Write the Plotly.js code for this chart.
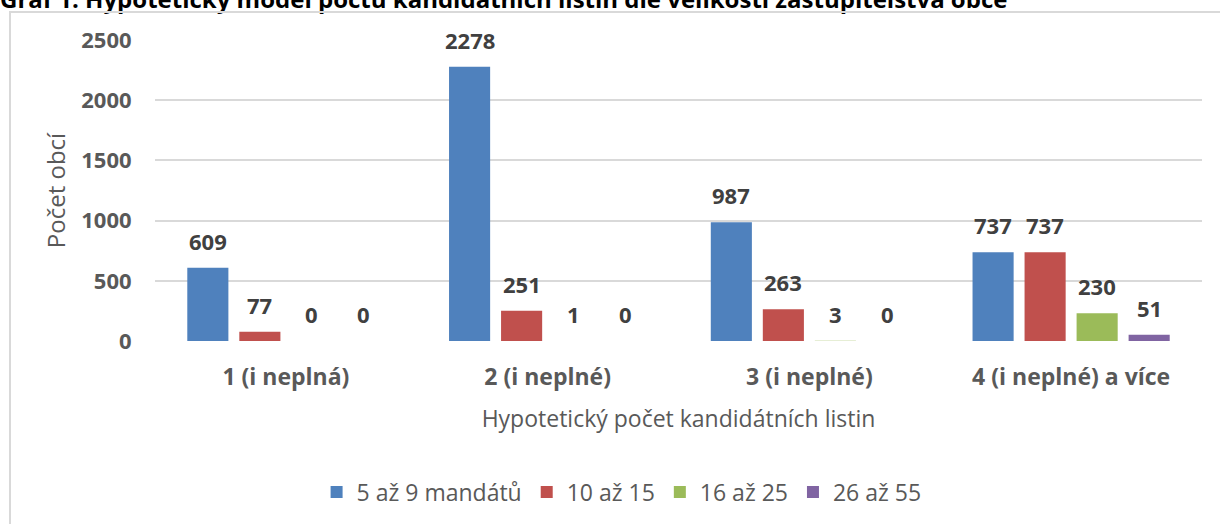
<!DOCTYPE html>
<html><head><meta charset="utf-8">
<script src="https://cdn.plot.ly/plotly-3.0.1.min.js"></script>
<style>
html,body{margin:0;padding:0;background:#fff;overflow:hidden;}
#chart{position:absolute;left:0;top:0;width:1220px;height:524px;}
#frame{position:absolute;left:9px;top:11px;right:0;bottom:0;border-left:2px solid #d9d9d9;border-top:2px solid #d9d9d9;pointer-events:none;}
</style>
</head><body>
<div id="chart"></div><div id="frame"></div>
<script>
const chartTitle = 'Graf 1: Hypotetický model počtu kandidátních listin dle velikosti zastupitelstva obce';
const categories = ['1 (i neplná)', '2 (i neplné)', '3 (i neplné)', '4 (i neplné) a více'];
const seriesNames = ['5 až 9 mandátů', '10 až 15', '16 až 25', '26 až 55'];
const mandaty5to9 = [609, 2278, 987, 737];
const mandaty10to15 = [77, 251, 263, 737];
const mandaty16to25 = [0, 1, 3, 230];
const mandaty26to55 = [0, 0, 0, 51];
const yTickVals = [0, 500, 1000, 1500, 2000, 2500];
const xTitle = 'Hypotetický počet kandidátních listin';
const yTitle = 'Počet obcí';

const seriesValues = [mandaty5to9, mandaty10to15, mandaty16to25, mandaty26to55];
const colors = ['#4F81BD', '#C0504D', '#9BBB59', '#8064A2'];
const FONT = '"Open Sans", "Noto Sans", sans-serif';

const W = 1220, H = 524;
const margin = {l: 155, r: 18, t: 40, b: 183};
const bargap = 0.205, bargroupgap = 0.21;
const catWidthPx = (W - margin.l - margin.r) / categories.length;
const slotPx = catWidthPx * (1 - bargap) / seriesValues.length;

const traces = seriesValues.map((vals, i) => ({
  type: 'bar', name: seriesNames[i], x: categories, y: vals,
  marker: {color: colors[i]}, hoverinfo: 'skip'
}));

const annotations = [];
seriesValues.forEach((vals, i) => {
  vals.forEach((v, j) => {
    annotations.push({
      x: categories[j], y: v, xref: 'x', yref: 'y', text: String(v), showarrow: false,
      xanchor: 'center', yanchor: 'middle',
      xshift: (i - (seriesValues.length - 1) / 2) * slotPx, yshift: 27,
      font: {family: FONT, size: 22, color: '#404040', weight: 'bold'}
    });
  });
});

const layout = {
  width: W, height: H, margin: margin,
  paper_bgcolor: 'rgba(0,0,0,0)', plot_bgcolor: 'rgba(0,0,0,0)',
  barmode: 'group', bargap: bargap, bargroupgap: bargroupgap,
  title: {text: '<b>' + chartTitle + '</b>', xref: 'container', yref: 'container', x: 0, xanchor: 'left', y: 1, yanchor: 'middle',
          pad: {l: 0, t: 0}, font: {family: FONT, size: 24, color: '#000'}},
  xaxis: {
    type: 'category', showgrid: false, zeroline: false, showline: false,
    ticks: 'outside', ticklen: 15, tickcolor: 'rgba(0,0,0,0)',
    tickfont: {family: FONT, size: 23, color: '#595959', weight: 'bold'},
    title: {text: xTitle, standoff: 20, font: {family: FONT, size: 23, color: '#595959'}}
  },
  yaxis: {
    range: [0, 2500], tickvals: yTickVals, ticktext: yTickVals.map(String),
    showgrid: true, gridcolor: '#D9D9D9', gridwidth: 2, zeroline: false, showline: false,
    ticks: 'outside', ticklen: 18, tickcolor: 'rgba(0,0,0,0)',
    tickfont: {family: FONT, size: 22, color: '#595959', weight: 'bold'},
    title: {text: yTitle, standoff: 8, font: {family: FONT, size: 24, color: '#595959'}}
  },
  showlegend: true,
  legend: {orientation: 'h', xref: 'container', yref: 'container', x: 0.5095, xanchor: 'center', y: 1 - 492 / H, yanchor: 'middle',
           font: {family: FONT, size: 23, color: '#595959'}, bgcolor: 'rgba(0,0,0,0)'},
  annotations: annotations
};

Plotly.newPlot('chart', traces, layout, {displayModeBar: false, staticPlot: true});
</script>
</body></html>
